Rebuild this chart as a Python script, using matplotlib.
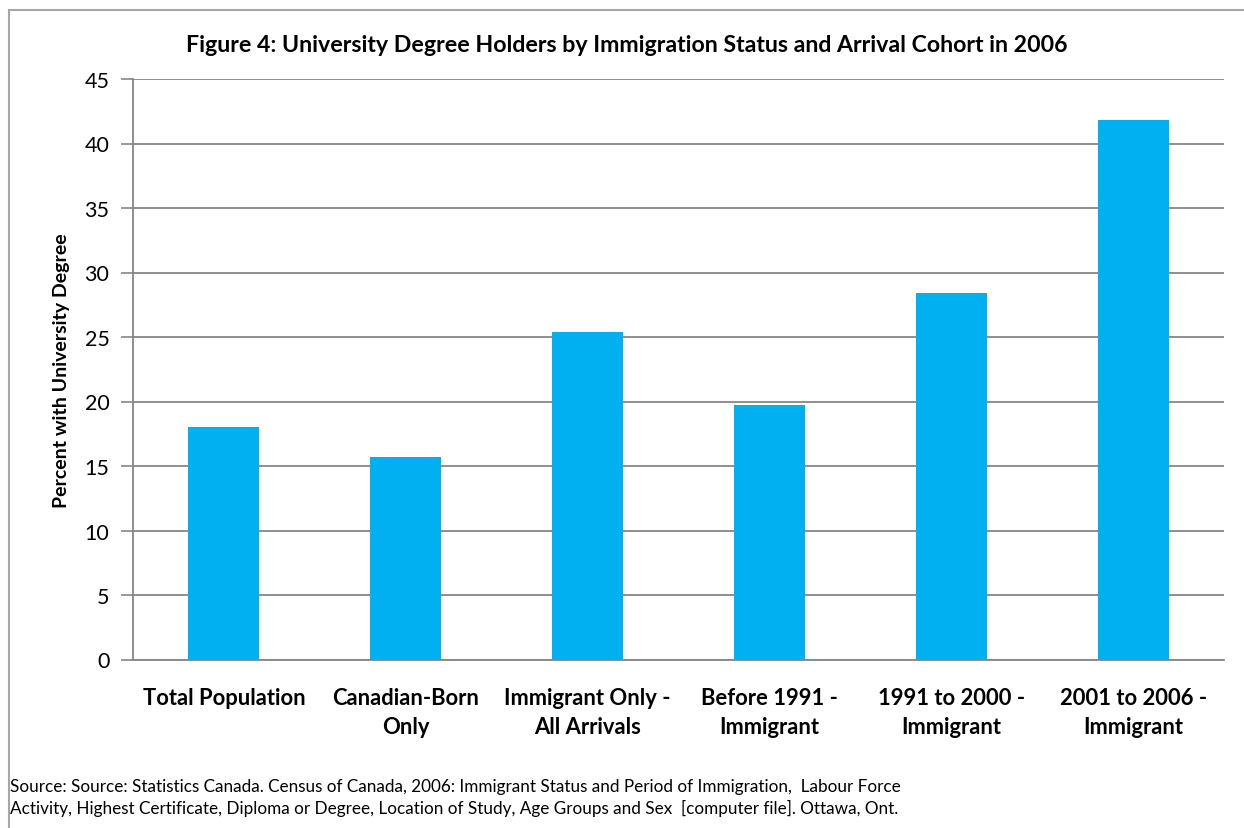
import matplotlib.pyplot as plt
from matplotlib.patches import Rectangle

# University degree holders by immigration status, 2006 census
categories = [
    "Total Population",
    "Canadian-Born\nOnly",
    "Immigrant Only -\nAll Arrivals",
    "Before 1991 -\nImmigrant",
    "1991 to 2000 -\nImmigrant",
    "2001 to 2006 -\nImmigrant",
]
percent_degree = [18.0, 15.7, 25.4, 19.7, 28.4, 41.8]
y_ticks = [0, 5, 10, 15, 20, 25, 30, 35, 40, 45]

title = "Figure 4: University Degree Holders by Immigration Status and Arrival Cohort in 2006"
source_note = (
    "Source: Source: Statistics Canada. Census of Canada, 2006: Immigrant Status and Period of Immigration,  Labour Force\n"
    "Activity, Highest Certificate, Diploma or Degree, Location of Study, Age Groups and Sex  [computer file]. Ottawa, Ont."
)

plt.rcParams['font.family'] = ['Lato', 'DejaVu Sans']

W, H = 1244, 829
figure = plt.figure(figsize=(W / 100, H / 100), dpi=100)

# outer chart frame (open on the right and bottom)
figure.patches.append(Rectangle((9 / W, -0.05), 1.2, 1 - 11 / H + 0.05,
                                transform=figure.transFigure, fill=False,
                                edgecolor="#a6a6a6", linewidth=1.5))

axe = figure.add_axes([133 / W, 1 - 660.5 / H, (1224 - 133) / W, (660.5 - 80) / H])
x = range(len(categories))
axe.bar(x, percent_degree, width=0.39, color="#00b0f0", zorder=3)

axe.set_ylim(0, 45)
axe.set_xlim(-0.5, len(categories) - 0.5)
axe.set_yticks(y_ticks)
axe.set_yticklabels([str(t) for t in y_ticks], fontsize=15.5)
axe.set_xticks(list(x))
axe.set_xticklabels(categories, fontsize=15.8, fontweight="bold", linespacing=1.45)
axe.tick_params(axis="x", length=0, pad=20)
axe.tick_params(axis="y", length=9, width=1.2, color="#868686", pad=8)

axe.yaxis.grid(True, color="#868686", linewidth=1.3, zorder=0)
for side in ("top", "right"):
    axe.spines[side].set_visible(False)
for side in ("left", "bottom"):
    axe.spines[side].set_color("#868686")
    axe.spines[side].set_linewidth(1.3)

axe.set_ylabel("Percent with University Degree", fontsize=14, fontweight="bold", labelpad=10)

figure.text(627 / W, 1 - 46 / H, title, ha="center", va="center",
            fontsize=16.7, fontweight="bold")
figure.text(10 / W, 1 - 798 / H, source_note, ha="left", va="center",
            fontsize=12.3, linespacing=1.4)

figure.savefig("out.png", dpi=100, facecolor="white")
